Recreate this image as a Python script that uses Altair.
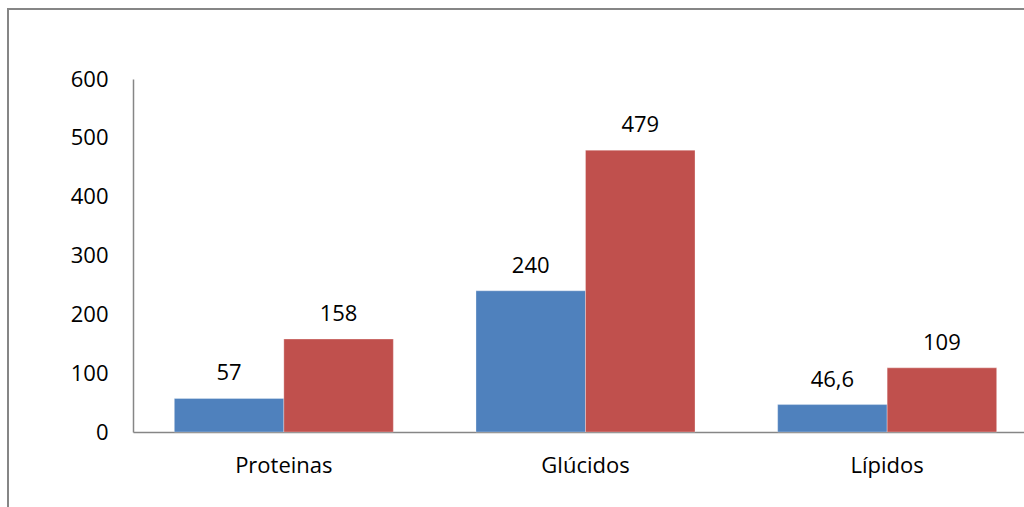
import altair as alt
import pandas as pd

# Nutrient categories and the two series shown for each
categories = ["Proteinas", "Glúcidos", "Lípidos"]
series = ["Serie 1", "Serie 2"]
values_s1 = [57, 240, 46.6]
values_s2 = [158, 479, 109]
colors = ["#4F81BD", "#C0504D"]

rows = []
for cat, a, b in zip(categories, values_s1, values_s2):
    rows.append({"categoria": cat, "serie": series[0], "valor": a})
    rows.append({"categoria": cat, "serie": series[1], "valor": b})
df = pd.DataFrame(rows)

W, H = 891, 353
X_RANGE = 905  # category axis runs a little past the right edge of the canvas
FONT = "Open Sans"
FS = 22

x_enc = alt.X(
    "categoria:N",
    sort=categories,
    title=None,
    scale=alt.Scale(paddingInner=0.274, paddingOuter=0.137, range=[0, X_RANGE]),
    axis=alt.Axis(
        labelAngle=0, ticks=False, domainColor="#868686", domainWidth=1.5,
        labelFont=FONT, labelFontSize=FS, labelColor="#000000", labelPadding=23,
    ),
)
y_enc = alt.Y(
    "valor:Q",
    title=None,
    scale=alt.Scale(domain=[0, 600]),
    axis=alt.Axis(
        values=[0, 100, 200, 300, 400, 500, 600], grid=False, ticks=False,
        domainColor="#868686", domainWidth=1.5, labelFont=FONT, labelFontSize=FS,
        labelColor="#000000", labelPadding=25,
    ),
)

base = alt.Chart(df).encode(
    x=x_enc,
    xOffset=alt.XOffset("serie:N", sort=series, scale=alt.Scale(paddingInner=0, paddingOuter=0)),
    y=y_enc,
)

bars = base.mark_bar(stroke="#ffffff", strokeWidth=0.5, strokeOpacity=0.6).encode(
    color=alt.Color("serie:N", scale=alt.Scale(domain=series, range=colors), legend=None)
)

labels = base.transform_calculate(
    etiqueta="replace(toString(datum.valor), '.', ',')"
).mark_text(
    baseline="alphabetic", dy=-18, font=FONT, fontSize=FS, color="#000000"
).encode(text="etiqueta:N")

# Outer frame around the whole chart
frame = alt.Chart(df).mark_rect(
    filled=False, stroke="#868686", strokeWidth=2, clip=False
).encode(
    x=alt.value(-125), x2=alt.value(W + 20),
    y=alt.value(-70), y2=alt.value(H + 90),
)

chart = alt.layer(frame, bars, labels).properties(
    width=W, height=H,
    autosize=alt.AutoSizeParams(type="none"),
    padding={"left": 133, "top": 79, "right": 0, "bottom": 75},
    background="#ffffff",
).configure_view(stroke=None)

chart.save("out.html", embed_options={"renderer": "svg", "actions": False})
